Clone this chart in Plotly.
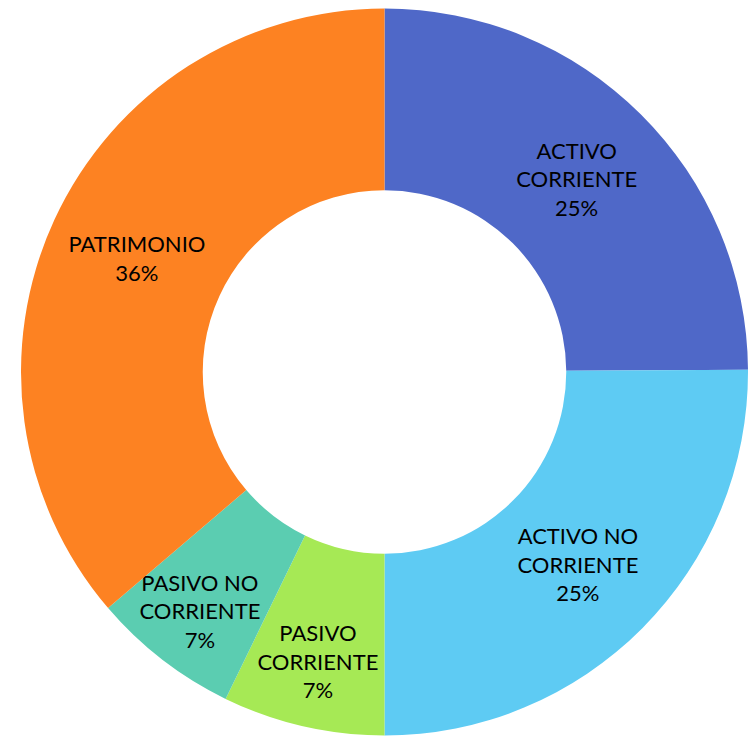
import plotly.graph_objects as go

labels = ["ACTIVO<br>CORRIENTE", "ACTIVO NO<br>CORRIENTE", "PASIVO<br>CORRIENTE",
          "PASIVO NO<br>CORRIENTE", "PATRIMONIO"]
values = [24.9, 25.1, 7.2, 6.55, 36.25]
colors = ["#4F68C8", "#5ECBF3", "#A6E955", "#5BCDB1", "#FD8222"]

fig = go.Figure(go.Pie(
    labels=labels,
    values=values,
    hole=0.5,
    sort=False,
    direction="clockwise",
    rotation=0,
    marker=dict(colors=colors, line=dict(width=0)),
    texttemplate="%{label}<br>%{percent:.0%}",
    textposition="inside",
    insidetextorientation="horizontal",
    textfont=dict(family="Lato", size=22, color="black"),
    domain=dict(x=[21/748, 1], y=[0, 728/736]),
    hoverinfo="label+percent",
))
fig.update_layout(
    width=748, height=736,
    margin=dict(l=0, r=0, t=0, b=0),
    showlegend=False,
    paper_bgcolor="white",
    uniformtext=dict(minsize=22, mode="show"),
)
fig.write_html(
    "out.html",
    config={"displayModeBar": False},
    post_script="document.body.style.margin='0';document.body.style.overflow='hidden';",
)
